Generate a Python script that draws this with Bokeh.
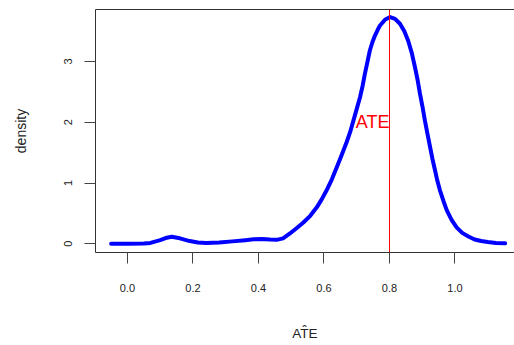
from bokeh.plotting import figure
from bokeh.models import Range1d, FixedTicker, LinearAxis, Span, Label
from bokeh.embed import file_html
from bokeh.resources import INLINE

# Kernel density estimate of the ATE estimates, sampled along x
ate_x = [-0.05, 0.0, 0.05, 0.07, 0.10, 0.12, 0.135, 0.16, 0.19, 0.215, 0.24,
         0.28, 0.32, 0.36, 0.385, 0.41, 0.435, 0.455, 0.475, 0.496, 0.517,
         0.537, 0.558, 0.578, 0.593, 0.608, 0.624, 0.639, 0.654, 0.669,
         0.68, 0.69, 0.70, 0.71, 0.718, 0.725, 0.733, 0.74, 0.748, 0.756,
         0.764, 0.771, 0.787, 0.802, 0.817, 0.832, 0.845, 0.857, 0.868,
         0.878, 0.886, 0.893, 0.901, 0.908, 0.916, 0.924, 0.931, 0.939,
         0.946, 0.954, 0.965, 0.975, 0.99, 1.005, 1.022, 1.041, 1.06,
         1.08, 1.10, 1.125, 1.153]
density = [0.0, 0.0, 0.005, 0.015, 0.06, 0.10, 0.115, 0.09, 0.045, 0.02, 0.012,
           0.02, 0.04, 0.06, 0.075, 0.08, 0.07, 0.065, 0.09, 0.17, 0.26,
           0.35, 0.46, 0.60, 0.73, 0.88, 1.06, 1.26, 1.46, 1.67,
           1.84, 2.03, 2.22, 2.41, 2.60, 2.80, 3.00, 3.18, 3.32, 3.43,
           3.52, 3.59, 3.69, 3.73, 3.70, 3.62, 3.50, 3.34, 3.14,
           2.90, 2.69, 2.47, 2.25, 2.03, 1.81, 1.59, 1.40, 1.21,
           1.04, 0.88, 0.70, 0.55, 0.39, 0.27, 0.18, 0.12, 0.07,
           0.045, 0.03, 0.015, 0.008]

true_ate = 0.8
x_ticks = [0.0, 0.2, 0.4, 0.6, 0.8, 1.0]
y_ticks = [0, 1, 2, 3]

FONT = "Liberation Sans"
INK = "#222222"

p = figure(width=514, height=345, output_backend="svg", toolbar_location=None,
           x_range=Range1d(-0.0977, 1.1817), y_range=Range1d(-0.143, 3.854),
           min_border_left=95, min_border_top=9, min_border_bottom=93,
           min_border_right=0, background_fill_color="white",
           border_fill_color="white")
p.outline_line_color = None
p.grid.visible = False

# bottom axis
xa = p.xaxis[0]
xa.ticker = FixedTicker(ticks=x_ticks)
xa.major_label_overrides = {t: f"{t:.1f}" for t in x_ticks}
xa.axis_label = "AT\u0302E"
xa.axis_label_text_font = FONT
xa.axis_label_text_font_style = "normal"
xa.axis_label_text_font_size = "13.5px"
xa.axis_label_text_color = INK
xa.axis_label_standoff = 31
xa.major_label_text_font = FONT
xa.major_label_text_font_size = "11px"
xa.major_label_text_color = INK
xa.major_label_standoff = 20
xa.major_tick_out = 11
xa.major_tick_in = 0
xa.minor_tick_out = 0
xa.minor_tick_in = 0
xa.major_tick_line_color = "#444444"
xa.axis_line_color = "#333333"

# left axis
ya = p.yaxis[0]
ya.ticker = FixedTicker(ticks=y_ticks)
ya.axis_label = "density"
ya.axis_label_text_font = FONT
ya.axis_label_text_font_style = "normal"
ya.axis_label_text_font_size = "14px"
ya.axis_label_text_color = INK
ya.axis_label_standoff = 33
ya.major_label_text_font = FONT
ya.major_label_text_font_size = "11px"
ya.major_label_text_color = INK
ya.major_label_orientation = "vertical"
ya.major_label_standoff = 12
ya.major_tick_out = 11
ya.major_tick_in = 0
ya.minor_tick_out = 0
ya.minor_tick_in = 0
ya.major_tick_line_color = "#444444"
ya.axis_line_color = "#333333"

# top edge of the box
top = LinearAxis(ticker=FixedTicker(ticks=[]), major_tick_out=0, major_tick_in=0,
                 minor_tick_out=0, minor_tick_in=0,
                 major_label_text_font_size="0px", axis_line_color="#333333")
p.add_layout(top, "above")

p.line(ate_x, density, line_color="#0000ff", line_width=4, line_join="round",
       line_cap="round")

p.add_layout(Span(location=true_ate, dimension="height", line_color="#ff0000",
                  line_width=1))
p.add_layout(Label(x=true_ate, y=2, text="ATE", text_align="right",
                   text_baseline="middle", text_color="#ff0000",
                   text_font=FONT, text_font_size="18px"))

open("out.html", "w").write(file_html(p, INLINE))
